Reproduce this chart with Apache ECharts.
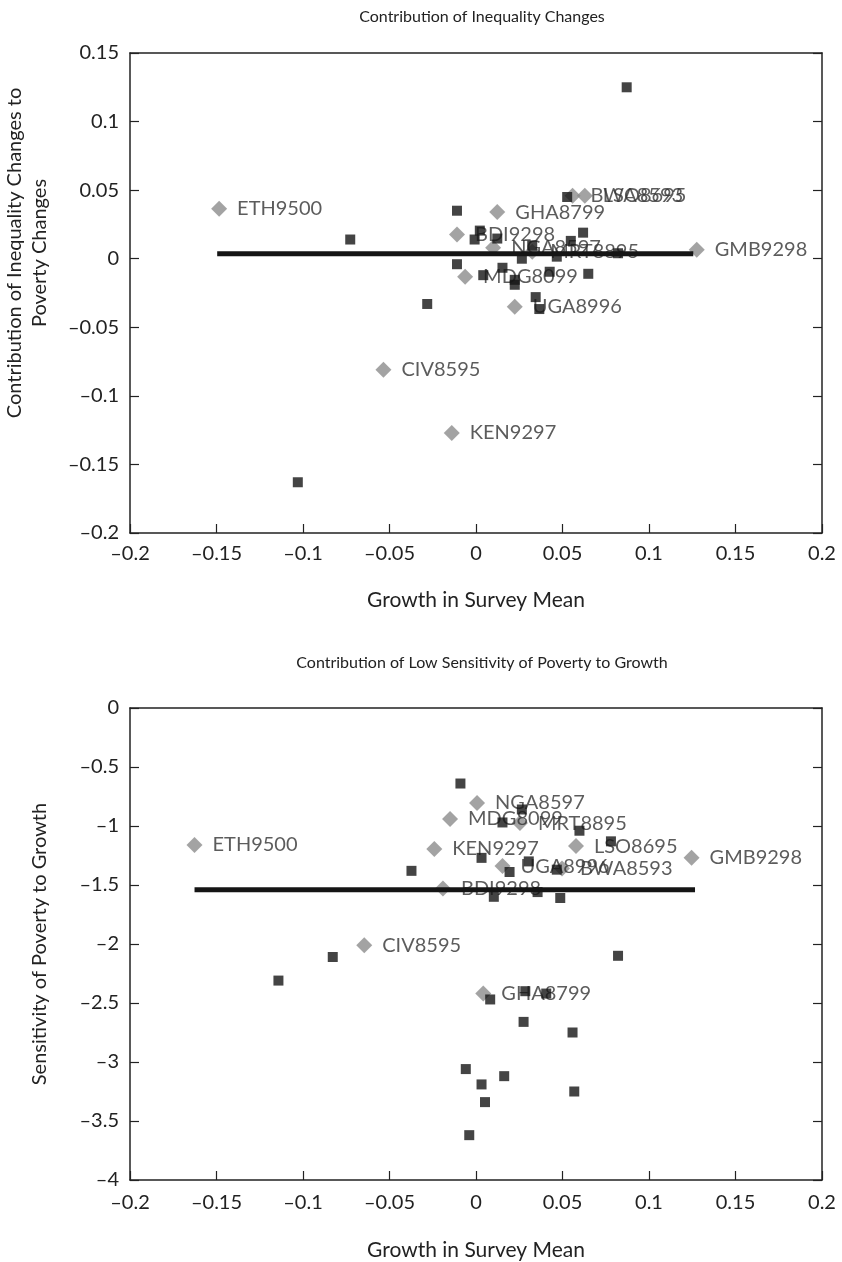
<!DOCTYPE html>
<html>
<head>
<meta charset="utf-8">
<script src="https://cdn.jsdelivr.net/npm/echarts@6/dist/echarts.min.js"></script>
<style>
html,body{margin:0;padding:0;background:#fff;}
#chart{width:842px;height:1262px;}
</style>
</head>
<body>
<div id="chart"></div>
<script>
// ---------- Top panel: Contribution of Inequality Changes ----------
const topTitle = 'Contribution of Inequality Changes';
const topYName = 'Contribution of Inequality Changes to\nPoverty Changes';
const topSquareX = [0.0871, 0.0527, -0.0110, 0.0022, -0.0008, 0.0123, 0.0619, 0.0548, 0.0325, 0.0265, 0.0467, 0.0821, -0.0110, 0.0042, 0.0153, 0.0224, 0.0224, 0.0426, 0.0649, 0.0345, 0.0366, -0.0282, -0.0727, -0.1030];
const topSquareY = [0.125, 0.045, 0.035, 0.0205, 0.014, 0.0147, 0.019, 0.013, 0.0095, 0.000, 0.0015, 0.004, -0.004, -0.012, -0.0066, -0.0154, -0.019, -0.0095, -0.011, -0.028, -0.0367, -0.033, 0.014, -0.163];
const topLabels = ['ETH9500', 'BWA8593', 'LSO8695', 'GHA8799', 'BDI9298', 'NGA8597', 'MRT8895', 'GMB9298', 'MDG8099', 'UGA8996', 'CIV8595', 'KEN9297'];
const topDiamondX = [-0.1485, 0.0558, 0.0629, 0.0123, -0.0110, 0.0099, 0.0325, 0.1276, -0.0063, 0.0224, -0.0535, -0.0140];
const topDiamondY = [0.0364, 0.046, 0.046, 0.034, 0.0176, 0.008, 0.005, 0.0066, -0.0132, -0.035, -0.081, -0.127];
const topLineX = [-0.1496, 0.1256];
const topLineY = [0.0037, 0.0037];

// ---------- Bottom panel: Contribution of Low Sensitivity ----------
const botTitle = 'Contribution of Low Sensitivity of Poverty to Growth';
const botYName = 'Sensitivity of Poverty to Growth';
const botSquareX = [-0.0090, 0.0265, 0.0153, 0.0598, 0.0780, 0.0032, -0.0373, 0.0305, 0.0194, 0.0467, 0.0103, 0.0356, 0.0487, 0.0821, -0.0828, -0.1142, 0.0082, 0.0285, 0.0406, 0.0275, 0.0558, -0.0059, 0.0163, 0.0032, 0.0568, 0.0052, -0.0039];
const botSquareY = [-0.64, -0.86, -0.97, -1.04, -1.13, -1.27, -1.38, -1.30, -1.39, -1.37, -1.60, -1.56, -1.61, -2.10, -2.11, -2.31, -2.47, -2.40, -2.42, -2.66, -2.75, -3.06, -3.12, -3.19, -3.25, -3.34, -3.62];
const botLabels = ['ETH9500', 'NGA8597', 'MDG8099', 'MRT8895', 'LSO8695', 'GMB9298', 'KEN9297', 'UGA8996', 'BWA8593', 'BDI9298', 'CIV8595', 'GHA8799'];
const botDiamondX = [-0.1627, 0.0006, -0.0150, 0.0254, 0.0578, 0.1246, -0.0241, 0.0153, 0.0497, -0.0191, -0.0646, 0.0042];
const botDiamondY = [-1.16, -0.805, -0.94, -0.975, -1.17, -1.27, -1.195, -1.34, -1.36, -1.53, -2.01, -2.42];
const botLineX = [-0.1627, 0.1266];
const botLineY = [-1.54, -1.54];

const xName = 'Growth in Survey Mean';
const FONT = 'Lato, "Open Sans", sans-serif';
const INK = '#222';

function fmt(v) {
  return String(+Number(v).toFixed(2)).replace('-', '\u2013');
}
function pairs(xs, ys) { return xs.map((x, i) => [x, ys[i]]); }
function labelled(xs, ys, names) { return xs.map((x, i) => ({ value: [x, ys[i]], name: names[i] })); }

function xAxes(grid, labelMargin, nameGap) {
  return [
    { gridIndex: grid, type: 'value', min: -0.2, max: 0.2, interval: 0.05, position: 'bottom',
      axisLine: { show: true, onZero: false, lineStyle: { color: INK, width: 1.5 } },
      axisTick: { show: true, inside: true, length: 9, lineStyle: { color: INK, width: 1.2 } },
      axisLabel: { formatter: fmt, color: INK, fontSize: 20, fontFamily: FONT, margin: labelMargin },
      splitLine: { show: false },
      name: xName, nameLocation: 'middle', nameGap: nameGap,
      nameTextStyle: { color: INK, fontSize: 21, fontFamily: FONT } },
    { gridIndex: grid, type: 'value', min: -0.2, max: 0.2, interval: 0.05, position: 'top',
      axisLine: { show: true, onZero: false, lineStyle: { color: INK, width: 1.5 } },
      axisTick: { show: false }, axisLabel: { show: false }, splitLine: { show: false } }
  ];
}
function yAxes(grid, min, max, interval, name, gap, pad) {
  return [
    { gridIndex: grid, type: 'value', min: min, max: max, interval: interval, position: 'left',
      axisLine: { show: true, onZero: false, lineStyle: { color: INK, width: 1.5 } },
      axisTick: { show: true, inside: true, length: 9, lineStyle: { color: INK, width: 1.2 } },
      axisLabel: { formatter: fmt, color: INK, fontSize: 20, fontFamily: FONT, margin: 11 },
      splitLine: { show: false },
      name: name, nameLocation: 'middle', nameGap: gap,
      nameTextStyle: { color: INK, fontSize: 20, fontFamily: FONT, lineHeight: 25, padding: pad } },
    { gridIndex: grid, type: 'value', min: min, max: max, interval: interval, position: 'right',
      axisLine: { show: true, onZero: false, lineStyle: { color: INK, width: 1.5 } },
      axisTick: { show: true, inside: true, length: 9, lineStyle: { color: INK, width: 1.2 } },
      axisLabel: { show: false }, splitLine: { show: false } }
  ];
}

const squareStyle = { symbol: 'rect', symbolSize: 10, itemStyle: { color: '#151515' } };
const diamondStyle = {
  symbol: 'diamond', symbolSize: 16, itemStyle: { color: '#8c8c8c' },
  label: { show: true, position: 'right', distance: 10, formatter: p => p.name,
           color: '#333', fontSize: 20, fontFamily: FONT }
};

function panelSeries(xi, yi, sqX, sqY, dX, dY, names, lX, lY) {
  return [
    Object.assign({ type: 'scatter', xAxisIndex: xi, yAxisIndex: yi, data: pairs(sqX, sqY), z: 3 }, squareStyle),
    { type: 'line', xAxisIndex: xi, yAxisIndex: yi, data: pairs(lX, lY), showSymbol: false, symbol: 'none',
      lineStyle: { color: '#151515', width: 5 }, z: 4 },
    Object.assign({ type: 'scatter', xAxisIndex: xi, yAxisIndex: yi, data: labelled(dX, dY, names), z: 2 }, diamondStyle)
  ];
}

const chart = echarts.init(document.getElementById('chart'), null, { renderer: 'canvas' });
chart.setOption({
  animation: false,
  backgroundColor: '#fff',
  title: [
    { text: topTitle, left: 477, top: 4, textAlign: 'center',
      textStyle: { color: INK, fontSize: 16, fontWeight: 'normal', fontFamily: FONT } },
    { text: botTitle, left: 477, top: 650, textAlign: 'center',
      textStyle: { color: INK, fontSize: 16, fontWeight: 'normal', fontFamily: FONT } }
  ],
  grid: [
    { left: 130, right: 20, top: 53, height: 480, containLabel: false, outerBoundsMode: 'none' },
    { left: 130, right: 20, top: 708, height: 472, containLabel: false, outerBoundsMode: 'none' }
  ],
  xAxis: xAxes(0, 11, 57).concat(xAxes(1, 13, 60)),
  yAxis: yAxes(0, -0.2, 0.15, 0.05, topYName, 78, [0, 0, 0, 80])
    .concat(yAxes(1, -4, 0, 0.5, botYName, 78, 0)),
  series: panelSeries(0, 0, topSquareX, topSquareY, topDiamondX, topDiamondY, topLabels, topLineX, topLineY)
    .concat(panelSeries(2, 2, botSquareX, botSquareY, botDiamondX, botDiamondY, botLabels, botLineX, botLineY))
});
</script>
</body>
</html>
